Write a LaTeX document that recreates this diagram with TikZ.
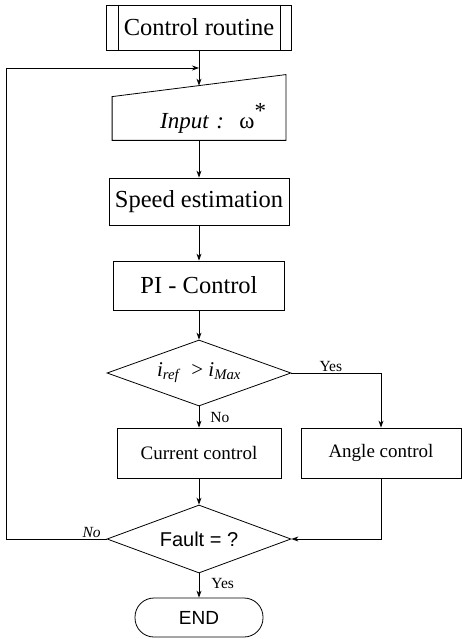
\documentclass[tikz,border=0pt]{standalone}
\usepackage{fontspec}
\setmainfont{Liberation Serif}
\newfontfamily\sansfnt{Liberation Sans}
\usepackage{tikz}
\usetikzlibrary{arrows.meta,shapes.geometric,calc}
\tikzstyle{line}=[line width=0.8pt]
\tikzstyle{block}=[rectangle,draw,line,inner sep=0pt,font=\fontsize{24.5}{26}\selectfont]
\tikzstyle{smallblock}=[block,font=\fontsize{19}{21}\selectfont]
\tikzstyle{decision}=[diamond,draw,line,inner sep=0pt,aspect=2.8,minimum width=184pt]
\tikzstyle{terminal}=[rectangle,draw,line,rounded corners=19pt,minimum width=128pt,minimum height=39pt,font=\sansfnt\fontsize{19}{21}\selectfont]
\tikzstyle{edge}=[line,-{Stealth[length=7pt,width=5pt]}]
\tikzstyle{answer}=[inner sep=1pt,font=\fontsize{15.5}{17}\selectfont]

\begin{document}
\begin{tikzpicture}[x=1pt,y=-1pt]
  \useasboundingbox (0,0) rectangle (462,639);
  % main column
  \node[block,minimum width=185pt,minimum height=45pt] (cr) at (199,27.5) {Control routine};
  \draw[line] ([xshift=12pt]cr.north west) -- ([xshift=12pt]cr.south west);
  \draw[line] ([xshift=-12pt]cr.north east) -- ([xshift=-12pt]cr.south east);
  \node[block,draw=none,minimum width=173pt,minimum height=43pt,text width=134pt,align=right,font=\fontsize{23}{25}\selectfont] (input) at (199,118.5) {\textit{Input :}\ \ ω\raisebox{1ex}{*}};
  \coordinate (intr) at ([yshift=22pt]input.north east);
  \draw[line] (input.south west) -- (input.north west) -- (intr) -- (input.south east) -- cycle;
  \coordinate (inslant) at ($(input.north west)!0.5!(intr)$);
  \coordinate (merge) at ($(cr.south)!0.5!(inslant)$);
  \node[block,minimum width=180pt,minimum height=47pt] (speed) at (199,201.5) {Speed estimation};
  \node[block,minimum width=171pt,minimum height=49pt] (pi) at (199,285.5) {PI - Control};
  \node[decision,minimum height=66pt,font=\fontsize{21}{23}\selectfont] (limit) at (199,373) {\textit{i}\textsubscript{\textit{ref}} \ > \textit{i}\textsubscript{\textit{Max}}};
  \node[smallblock,minimum width=164pt,minimum height=50pt] (current) at (199,453) {Current control};
  \node[smallblock,minimum width=160pt,minimum height=50pt] (angle) at (381,453) {Angle control};
  \node[decision,minimum height=68pt,font=\sansfnt\fontsize{20}{22}\selectfont] (fault) at (199,539) {Fault = ?};
  \node[terminal] (stop) at (199,617.5) {END};
  % connectors
  \draw[edge] (cr.south) -- (inslant);
  \draw[edge] (input.south) -- (speed.north);
  \draw[edge] (speed.south) -- (pi.north);
  \draw[edge] (pi.south) -- (limit.north);
  \draw[edge] (limit.south) -- node[answer,right=10pt] (no1) {No} (current.north);
  \draw[edge] (limit.east) -| node[answer,above,pos=0.22] (yes1) {Yes} (angle.north);
  \draw[edge] (current.south) -- (fault.north);
  \draw[edge] (angle.south) |- (fault.east);
  \draw[edge] (fault.south) -- node[answer,right=11pt,pos=0.4] (yes2) {Yes} (stop.north);
  % loop back
  \draw[edge] (fault.west) -- node[answer,above,pos=0.15,font=\fontsize{15.5}{17}\selectfont\itshape] (no2) {No} ++(-100,0) |- (merge);
\end{tikzpicture}
\end{document}
